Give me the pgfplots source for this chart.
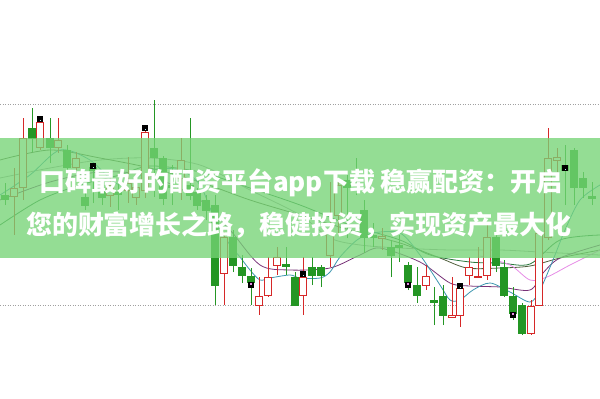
\documentclass[border=0pt]{standalone}
\usepackage{fontspec}
\usepackage{pgfplots}
\pgfplotsset{compat=1.18}
\usepgfplotslibrary{statistics}
\newfontfamily\cjk{Noto Sans CJK SC}

\definecolor{upred}{RGB}{214,40,40}
\definecolor{dngreen}{RGB}{36,150,36}
\definecolor{bandgreen}{RGB}{118,212,118}
\definecolor{maTeal}{RGB}{60,150,175}
\definecolor{maPurple}{RGB}{120,50,120}
\definecolor{maPink}{RGB}{230,140,230}
\definecolor{maGreen}{RGB}{40,120,60}
\definecolor{maOlive}{RGB}{80,95,60}
\definecolor{maGrey}{RGB}{160,160,160}

% one candle: x, high, body top, body bottom, low (screen order, y axis reversed)
\newcommand{\up}[5]{\addplot[upc, boxplot prepared={draw position=#1,
  lower whisker=#2, lower quartile=#3, median=#3, upper quartile=#4,
  upper whisker=#5}] coordinates {};}
\newcommand{\dn}[5]{\addplot[dnc, boxplot prepared={draw position=#1,
  lower whisker=#2, lower quartile=#3, median=#3, upper quartile=#4,
  upper whisker=#5}] coordinates {};}

\begin{document}
\begin{tikzpicture}
\begin{axis}[
  scale only axis, width=600pt, height=399pt,
  xmin=0, xmax=600, ymin=0, ymax=399, y dir=reverse,
  axis lines=none,
  boxplot/draw direction=y,
  boxplot/box extend=6.5, boxplot/whisker extend=0,
  upc/.style={draw=upred, fill=white, line width=0.9pt},
  dnc/.style={draw=dngreen, fill=dngreen, line width=0.9pt},
]
% dotted price levels
\addplot[maGrey, line width=1pt, dash pattern=on 1pt off 1.5pt] coordinates {(0,104) (600,104)};
\addplot[maGrey, line width=1pt, dash pattern=on 1pt off 1.5pt] coordinates {(0,305) (600,305)};

% moving averages
\addplot[maGrey, line width=0.8pt, smooth] coordinates {(0,178) (50,168) (100,160) (150,158) (200,165) (250,190) (300,215) (330,238) (360,245) (400,248) (450,250) (500,250) (540,252) (600,255)};
\addplot[maOlive, line width=0.8pt, smooth] coordinates {(0,160) (50,150) (100,158) (150,168) (200,182) (250,200) (300,215) (350,230) (400,243) (440,258) (467,268) (500,268) (530,266) (560,258) (600,250)};
\addplot[maGreen, line width=0.8pt, smooth] coordinates {(0,225) (40,200) (80,185) (120,175) (150,166) (200,172) (250,188) (300,205) (350,225) (400,240) (430,255) (470,262) (500,263) (530,264) (560,240) (600,235)};
\addplot[maPurple, line width=0.8pt, smooth] coordinates {(0,200) (50,182) (100,172) (150,176) (200,200) (230,230) (260,265) (290,270) (330,268) (360,255) (380,248) (420,262) (450,283) (470,286) (500,287) (530,290) (543,273) (560,258) (600,245)};
\addplot[maPink, line width=0.8pt, smooth] coordinates {(480,256) (510,265) (530,280) (547,277) (570,265) (600,250)};
\addplot[maTeal, line width=0.8pt, smooth] coordinates {(0,195) (30,175) (60,150) (90,160) (120,185) (150,170) (180,170) (200,185) (215,220) (230,245) (240,257) (250,270) (260,280) (270,278) (290,275) (300,278) (320,278) (330,272) (340,257) (357,240) (373,233) (400,233) (420,255) (440,285) (450,300) (460,300) (473,290) (490,283) (510,292) (530,302) (540,290) (553,260) (565,230) (580,200) (600,185)};

% candles
\dn{5}{183}{195}{199}{205}
\up{14}{168}{188}{196}{235}
\up{23}{118}{138}{187}{200}
\dn{32}{108}{128}{138}{152}
\up{40}{118}{122}{147}{150}
\dn{50}{118}{138}{147}{163}
\up{58}{118}{140}{147}{153}
\dn{67}{145}{150}{167}{172}
\up{76}{152}{158}{167}{170}
\dn{85}{183}{197}{205}{210}
\dn{93}{165}{167}{170}{203}
\dn{102}{180}{190}{197}{205}
\up{110}{175}{185}{195}{207}
\dn{118}{182}{192}{194}{210}
\up{128}{157}{183}{190}{203}
\up{136}{175}{187}{197}{205}
\up{145}{125}{132}{190}{198}
\dn{154}{100}{148}{157}{197}
\dn{163}{156}{158}{198}{205}
\dn{172}{165}{185}{187}{205}
\up{181}{138}{160}{178}{200}
\dn{190}{118}{185}{195}{200}
\dn{197}{188}{192}{205}{210}
\dn{206}{195}{200}{210}{220}
\dn{215}{195}{205}{285}{305}
\up{224}{232}{237}{273}{305}
\dn{233}{230}{237}{265}{272}
\dn{242}{255}{267}{275}{283}
\dn{251}{268}{276}{282}{305}
\up{259}{277}{296}{305}{315}
\up{268}{257}{277}{295}{297}
\up{277}{247}{257}{265}{275}
\dn{286}{247}{264}{266}{275}
\dn{295}{272}{277}{305}{306}
\up{303}{257}{277}{295}{315}
\dn{312}{257}{267}{275}{285}
\dn{321}{265}{267}{275}{287}
\up{330}{182}{233}{255}{267}
\up{338}{178}{185}{215}{235}
\dn{347}{175}{180}{187}{238}
\dn{356}{158}{170}{172}{195}
\dn{364}{200}{210}{237}{253}
\dn{373}{223}{235}{237}{247}
\up{382}{228}{236}{238}{250}
\dn{391}{240}{247}{255}{277}
\dn{399}{235}{245}{247}{262}
\dn{408}{262}{265}{282}{290}
\dn{417}{267}{285}{295}{303}
\up{426}{265}{276}{285}{290}
\dn{434}{287}{300}{302}{325}
\dn{443}{285}{296}{315}{325}
\up{452}{277}{315}{317}{318}
\up{460}{283}{288}{315}{327}
\up{469}{257}{267}{275}{285}
\up{478}{247}{276}{277}{278}
\up{487}{225}{237}{275}{280}
\dn{496}{230}{237}{265}{272}
\dn{504}{260}{267}{295}{297}
\dn{513}{287}{296}{313}{320}
\dn{522}{303}{305}{333}{335}
\up{531}{300}{306}{333}{335}
\up{539}{230}{233}{305}{306}
\up{548}{128}{158}{237}{240}
\up{557}{148}{157}{160}{172}
\dn{565}{145}{165}{170}{205}
\dn{574}{148}{150}{187}{205}
\dn{583}{172}{178}{187}{198}
\dn{592}{182}{196}{198}{205}

% signal markers
\addplot[only marks, mark=square*, mark size=2.6pt, mark options={draw=black, fill=black}]
  coordinates {(40,119) (145,128) (93,166) (251,285) (303,274) (408,285) (460,286) (513,315) (565,168)};
\addplot[only marks, mark=square*, mark size=1.3pt, mark options={draw=none, fill=cyan!25}]
  coordinates {(40,120) (145,129) (93,167) (303,275) (460,287) (565,169)};
\addplot[only marks, mark=square*, mark size=1.4pt, mark options={draw=none, fill=maPink}]
  coordinates {(251,284) (408,284) (513,314)};

% banner
\fill[bandgreen, fill opacity=0.78] (axis cs:0,138) rectangle (axis cs:600,258);
\node[text=white, font=\cjk\bfseries\fontsize{26}{26}\selectfont] at (axis cs:301,183) {口碑最好的配资平台app下载 稳赢配资：开启};
\node[text=white, font=\cjk\bfseries\fontsize{26}{26}\selectfont] at (axis cs:299,225) {您的财富增长之路，稳健投资，实现资产最大化};
\end{axis}
\pgfresetboundingbox
\path (current axis.south west) rectangle (current axis.north east);
\end{tikzpicture}
\end{document}
